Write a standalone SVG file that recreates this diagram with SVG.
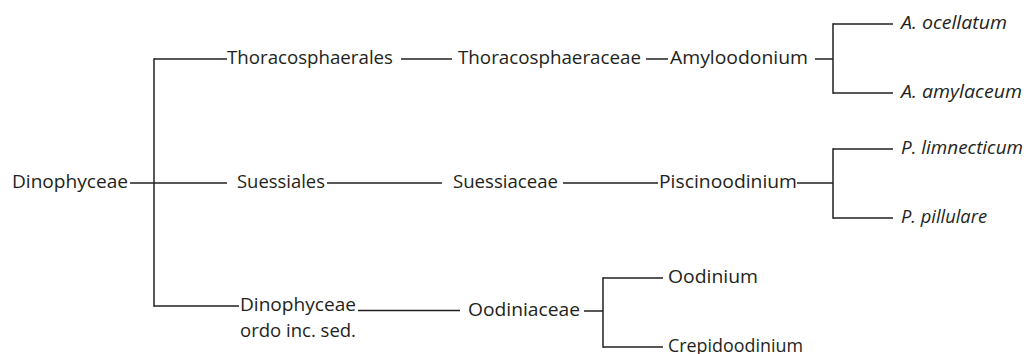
<svg xmlns="http://www.w3.org/2000/svg" width="1027" height="354" viewBox="0 0 1027 354">
<style>
text{font-family:"Open Sans","Noto Sans","Liberation Sans",sans-serif;font-size:18px;fill:#231f20}
.i{font-style:italic}
#connectors line{stroke:#231f20;stroke-width:1.5;fill:none}
</style>
<rect width="1027" height="354" fill="#fff"/>
<g id="connectors">
<line x1="130" y1="183" x2="227" y2="183"/>
<line x1="154" y1="58.3" x2="154" y2="306.7"/>
<line x1="154" y1="59" x2="227" y2="59"/>
<line x1="154" y1="306" x2="239" y2="306"/>
<line x1="401" y1="59" x2="452" y2="59"/>
<line x1="646" y1="59" x2="668" y2="59"/>
<line x1="815" y1="59" x2="833" y2="59"/>
<line x1="833" y1="23.3" x2="833" y2="93.7"/>
<line x1="833" y1="24" x2="893" y2="24"/>
<line x1="833" y1="93" x2="893" y2="93"/>
<line x1="327" y1="183" x2="442" y2="183"/>
<line x1="563" y1="183" x2="658" y2="183"/>
<line x1="797" y1="183" x2="833" y2="183"/>
<line x1="833" y1="148.3" x2="833" y2="218.7"/>
<line x1="833" y1="149" x2="893" y2="149"/>
<line x1="833" y1="218" x2="893" y2="218"/>
<line x1="358" y1="310.5" x2="460" y2="310.5"/>
<line x1="584" y1="311" x2="603" y2="311"/>
<line x1="603" y1="277.3" x2="603" y2="347.7"/>
<line x1="603" y1="278" x2="663" y2="278"/>
<line x1="603" y1="347" x2="663" y2="347"/>
</g>
<g id="n-dinophyceae"><text x="12" y="187.5" textLength="116" lengthAdjust="spacingAndGlyphs">Dinophyceae</text></g>
<g id="n-thoracosphaerales"><text x="227" y="63.5" textLength="166" lengthAdjust="spacingAndGlyphs">Thoracosphaerales</text></g>
<g id="n-thoracosphaeraceae"><text x="458" y="63.5" textLength="183" lengthAdjust="spacingAndGlyphs">Thoracosphaeraceae</text></g>
<g id="n-amyloodonium"><text x="670" y="63.5" textLength="138" lengthAdjust="spacingAndGlyphs">Amyloodonium</text></g>
<g id="n-a-ocellatum"><text class="i" x="901" y="28.5" textLength="106" lengthAdjust="spacingAndGlyphs">A. ocellatum</text></g>
<g id="n-a-amylaceum"><text class="i" x="901" y="97.5" textLength="121" lengthAdjust="spacingAndGlyphs">A. amylaceum</text></g>
<g id="n-suessiales"><text x="237" y="187.5" textLength="88" lengthAdjust="spacingAndGlyphs">Suessiales</text></g>
<g id="n-suessiaceae"><text x="453" y="187.5" textLength="105" lengthAdjust="spacingAndGlyphs">Suessiaceae</text></g>
<g id="n-piscinoodinium"><text x="659" y="187.5" textLength="138" lengthAdjust="spacingAndGlyphs">Piscinoodinium</text></g>
<g id="n-p-limnecticum"><text class="i" x="901" y="153.5" textLength="122" lengthAdjust="spacingAndGlyphs">P. limnecticum</text></g>
<g id="n-p-pillulare"><text class="i" x="901" y="222.5" textLength="86" lengthAdjust="spacingAndGlyphs">P. pillulare</text></g>
<g id="n-dinophyceae-ordo"><text x="240" y="311" textLength="116" lengthAdjust="spacingAndGlyphs">Dinophyceae</text><text x="240" y="337" textLength="116" lengthAdjust="spacingAndGlyphs">ordo inc. sed.</text></g>
<g id="n-oodiniaceae"><text x="468" y="315.5" textLength="112" lengthAdjust="spacingAndGlyphs">Oodiniaceae</text></g>
<g id="n-oodinium"><text x="668" y="282.5" textLength="90" lengthAdjust="spacingAndGlyphs">Oodinium</text></g>
<g id="n-crepidoodinium"><text x="668" y="351.5" textLength="135" lengthAdjust="spacingAndGlyphs">Crepidoodinium</text></g>
</svg>
